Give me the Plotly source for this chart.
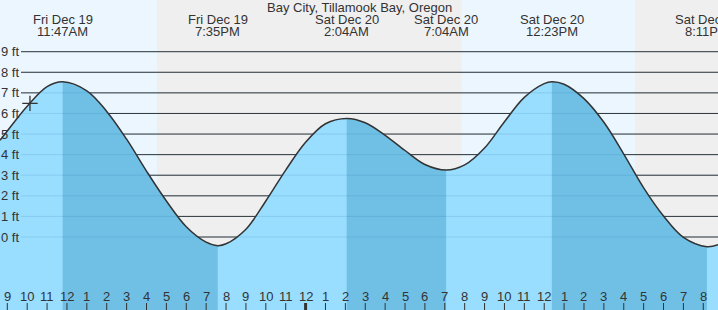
import plotly.graph_objects as go

# ---- data (hours counted from Fri Dec 19 00:00) ----
title_text = "Bay City, Tillamook Bay, Oregon"

curve_t = [8.633, 9, 10, 11, 11.783, 13, 14, 15, 16, 17, 18, 19, 19.583,
           20, 21, 22, 23, 24, 25, 26.067, 27, 28, 29, 30, 31.067,
           32, 33, 34, 35, 36, 36.383, 37, 38, 39, 40, 41, 42, 43, 44.183, 44.74]
curve_h = [4.70, 5.15, 6.35, 7.30, 7.54, 7.10, 6.10, 4.75, 3.20, 1.75, 0.50, -0.25, -0.42,
           -0.33, 0.38, 1.75, 3.25, 4.60, 5.50, 5.76, 5.55, 4.94, 4.20, 3.52, 3.25,
           3.50, 4.32, 5.60, 6.78, 7.45, 7.54, 7.42, 6.72, 5.57, 4.03, 2.39, 1.02, -0.02, -0.47, -0.37]

extreme_t = [11.783, 19.583, 26.067, 31.067, 36.383, 44.183]
extreme_h = [7.54, -0.42, 5.76, 3.25, 7.54, -0.47]
extreme_day = ["Fri Dec 19", "Fri Dec 19", "Sat Dec 20", "Sat Dec 20", "Sat Dec 20", "Sat Dec 20"]
extreme_time = ["11:47AM", "7:35PM", "2:04AM", "7:04AM", "12:23PM", "8:11PM"]

falling_segments = [(11.783, 19.583), (26.067, 31.067), (36.383, 44.183)]

sun_events = [16.53, 31.85, 40.565]   # sunset, sunrise, sunset

now_t = [10.14]
now_h = [6.49]

y_ticks = [0, 1, 2, 3, 4, 5, 6, 7, 8, 9]
y_tick_labels = [f"{v} ft" for v in y_ticks]

hour_ticks = list(range(9, 45))
hour_labels = [str((h % 12) or 12) for h in hour_ticks]

# ---- layout constants ----
W, H = 718, 310
X_RANGE = [8.6329, 44.739]
Y_RANGE = [-3.5454, 11.5105]
BASE = -6

LIGHT = "#99DDFF"
DARK = "#70C0E6"
DAY_BG = "#EBF6FF"
NIGHT_BG = "#EFEFEF"
TXT = "#333333"
FONT = "Liberation Sans, Arial, sans-serif"

fig = go.Figure()

# full water fill
fig.add_trace(go.Scatter(x=[X_RANGE[0] - 1, X_RANGE[1] + 1], y=[BASE, BASE], mode="lines",
                         line=dict(width=0), hoverinfo="skip", showlegend=False))
fig.add_trace(go.Scatter(x=curve_t, y=curve_h, mode="lines", line=dict(width=0, shape="spline"),
                         fill="tonexty", fillcolor=LIGHT, hoverinfo="skip", showlegend=False))

# falling-tide (darker) fills
for a, b in falling_segments:
    st = [t for t in curve_t if a - 1e-6 <= t <= b + 1e-6]
    sh = [h for t, h in zip(curve_t, curve_h) if a - 1e-6 <= t <= b + 1e-6]
    fig.add_trace(go.Scatter(x=[a, b], y=[BASE, BASE], mode="lines", line=dict(width=0),
                             hoverinfo="skip", showlegend=False))
    fig.add_trace(go.Scatter(x=st, y=sh, mode="lines", line=dict(width=0, shape="spline"),
                             fill="tonexty", fillcolor=DARK, hoverinfo="skip", showlegend=False))

# tide curve line
fig.add_trace(go.Scatter(x=curve_t, y=curve_h, mode="lines",
                         line=dict(color=TXT, width=1.5, shape="spline"),
                         hoverinfo="skip", showlegend=False))

# current time marker
fig.add_trace(go.Scatter(x=now_t, y=now_h, mode="markers",
                         marker=dict(symbol="cross-thin", size=11, line=dict(color=TXT, width=1.3)),
                         hoverinfo="skip", showlegend=False))

shapes = []
# day / night backgrounds
edges = [X_RANGE[0] - 1] + sun_events + [X_RANGE[1] + 1]
for i in range(len(edges) - 1):
    shapes.append(dict(type="rect", xref="x", yref="paper", x0=edges[i], x1=edges[i + 1],
                       y0=0, y1=1, fillcolor=DAY_BG if i % 2 == 0 else NIGHT_BG,
                       line=dict(width=0), layer="below"))
# grid lines (dark, under water) and faint overlay (over water)
for v in y_ticks:
    shapes.append(dict(type="line", xref="paper", yref="y", x0=21 / W, x1=1, y0=v, y1=v,
                       line=dict(color="#333333", width=1), layer="below"))
    shapes.append(dict(type="line", xref="paper", yref="y", x0=21 / W, x1=1, y0=v, y1=v,
                       line=dict(color="rgba(0,90,140,0.13)", width=1), layer="above"))
# hour ticks
for h in hour_ticks:
    shapes.append(dict(type="line", xref="x", yref="paper", x0=h, x1=h, y0=0, y1=7 / H,
                       line=dict(color=TXT, width=3 if h % 24 == 0 else 1), layer="above"))

annotations = []
annotations.append(dict(text=title_text, xref="paper", yref="paper", x=0.5, y=1 - 7.5 / H,
                        xanchor="center", yanchor="middle", showarrow=False,
                        font=dict(size=13, color=TXT, family=FONT)))
for t, d, tm in zip(extreme_t, extreme_day, extreme_time):
    annotations.append(dict(text=d, xref="x", yref="paper", x=t, y=1 - 19.5 / H,
                            xanchor="center", yanchor="middle", showarrow=False,
                            font=dict(size=13, color=TXT, family=FONT)))
    annotations.append(dict(text=tm, xref="x", yref="paper", x=t, y=1 - 31.5 / H,
                            xanchor="center", yanchor="middle", showarrow=False,
                            font=dict(size=13, color=TXT, family=FONT)))
for v, lab in zip(y_ticks, y_tick_labels):
    annotations.append(dict(text=lab, xref="paper", yref="y", x=21 / W, y=v,
                            xanchor="right", yanchor="middle", showarrow=False,
                            font=dict(size=13, color=TXT, family=FONT)))
for h, lab in zip(hour_ticks, hour_labels):
    annotations.append(dict(text=lab, xref="x", yref="paper", x=h, y=14 / H,
                            xanchor="center", yanchor="middle", showarrow=False,
                            font=dict(size=13, color=TXT, family=FONT)))

fig.update_layout(
    width=W, height=H, margin=dict(l=0, r=0, t=0, b=0),
    paper_bgcolor=DAY_BG, plot_bgcolor=DAY_BG,
    xaxis=dict(range=X_RANGE, visible=False, fixedrange=True),
    yaxis=dict(range=Y_RANGE, visible=False, fixedrange=True),
    shapes=shapes, annotations=annotations, showlegend=False,
)

fig.write_html("out.html", config={"displayModeBar": False})
